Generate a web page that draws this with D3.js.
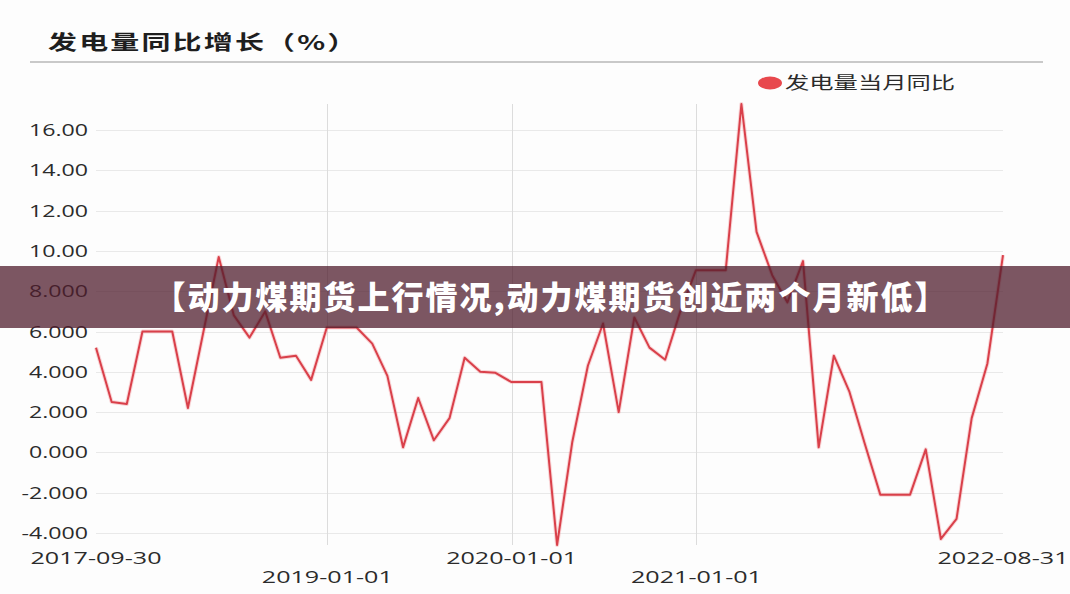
<!DOCTYPE html>
<meta charset="utf-8">
<head>
    <title>发电量同比增长</title>
    <script src="https://cdn.jsdelivr.net/npm/d3@7"></script>
    <style>
        body { margin: 0; background: #fdfdfd; }
        svg text { fill: #2b2b2b; }
        .tick-label { font-family: "Open Sans", "Noto Sans", sans-serif; font-size: 16px; }
        .cjk { font-family: "Noto Sans CJK SC", sans-serif; }
    </style>
</head>
<body>
<div id="chart"></div>
<script>
    // monthly series, month-end dates from 2017-09-30 to 2022-08-31
    var startMonth = "2017-09";
    var yoyValues = [5.2, 2.5, 2.4, 6.0, 6.0, 6.0, 2.2, 5.9, 9.7, 6.8,
                     5.7, 7.0, 4.7, 4.8, 3.6, 6.2, 6.2, 6.2, 5.4, 3.8,
                     0.25, 2.7, 0.6, 1.7, 4.7, 4.0, 3.95, 3.5, 3.5, 3.5,
                     -4.6, 0.5, 4.3, 6.4, 2.0, 6.7, 5.2, 4.6, 7.0, 9.05,
                     9.05, 9.05, 17.3, 10.95, 8.8, 7.45, 9.5, 0.25, 4.8, 3.0,
                     0.45, -2.1, -2.1, -2.1, 0.15, -4.3, -3.3, 1.7, 4.4, 9.8];
    var yTicks = [-4, -2, 0, 2, 4, 6, 8, 10, 12, 14, 16];
    var yTickLabels = ["-4.000", "-2.000", "0.000", "2.000", "4.000", "6.000", "8.000", "10.00", "12.00", "14.00", "16.00"];
    var xGridDates = ["2019-01-01", "2020-01-01", "2021-01-01"];
    var xLabels = ["2017-09-30", "2019-01-01", "2020-01-01", "2021-01-01", "2022-08-31"];

    var seriesName = "发电量当月同比";
    var titleText = "发电量同比增长（%）";
    var bannerText = "【动力煤期货上行情况,动力煤期货创近两个月新低】";

    var width = 1070, height = 594;
    var margin = { top: 104, right: 67, bottom: 49, left: 96 };
    var stretch = 1.45;   // the source picture is squeezed wide, text follows it

    var parse = d3.utcParse("%Y-%m-%d");
    var first = d3.utcParse("%Y-%m")(startMonth);
    var data = yoyValues.map(function (v, i) {
        // last day of each month
        var d = d3.utcDay.offset(d3.utcMonth.offset(first, i + 1), -1);
        return { date: d, value: v };
    });

    var svg = d3.select("#chart").append("svg")
        .attr("width", width)
        .attr("height", height);

    var x = d3.scaleUtc()
        .domain(d3.extent(data, function (d) { return d.date; }))
        .range([margin.left, width - margin.right]);

    var y = d3.scaleLinear()
        .domain(d3.extent(yoyValues))
        .range([height - margin.bottom, margin.top]);

    // title and rule under it
    svg.append("text")
        .attr("class", "cjk")
        .attr("transform", "translate(48,50) scale(" + stretch + ",1)")
        .style("font-size", "20px")
        .style("font-weight", 700)
        .style("letter-spacing", "1.5px")
        .style("fill", "#1e1e1e")
        .text(titleText);

    svg.append("line")
        .attr("x1", 30).attr("x2", 1043)
        .attr("y1", 62).attr("y2", 62)
        .attr("stroke", "#c9c9c9")
        .attr("stroke-width", 2);

    // legend
    svg.append("ellipse")
        .attr("cx", 770).attr("cy", 83)
        .attr("rx", 12).attr("ry", 6.5)
        .attr("fill", "#e8484d");
    svg.append("text")
        .attr("class", "cjk")
        .attr("transform", "translate(785,89) scale(1.43,1)")
        .style("font-size", "17px")
        .text(seriesName);

    // horizontal grid
    svg.append("g").selectAll("line")
        .data(yTicks)
        .enter().append("line")
        .attr("x1", x.range()[0]).attr("x2", x.range()[1])
        .attr("y1", function (d) { return Math.round(y(d)) + 0.5; })
        .attr("y2", function (d) { return Math.round(y(d)) + 0.5; })
        .attr("stroke", "#e9e9e9");

    // vertical grid at year starts
    svg.append("g").selectAll("line")
        .data(xGridDates)
        .enter().append("line")
        .attr("x1", function (d) { return Math.round(x(parse(d))) + 0.5; })
        .attr("x2", function (d) { return Math.round(x(parse(d))) + 0.5; })
        .attr("y1", y.range()[1]).attr("y2", y.range()[0])
        .attr("stroke", "#dcdcdc");

    // y labels
    svg.append("g").selectAll("text")
        .data(yTicks)
        .enter().append("text")
        .attr("class", "tick-label")
        .attr("text-anchor", "end")
        .attr("transform", function (d) {
            return "translate(88," + (y(d) + 6) + ") scale(" + stretch + ",1)";
        })
        .text(function (d, i) { return yTickLabels[i]; });

    // x labels, staggered on two rows
    svg.append("g").selectAll("text")
        .data(xLabels)
        .enter().append("text")
        .attr("class", "tick-label")
        .attr("text-anchor", "middle")
        .attr("transform", function (d, i) {
            var row = i % 2 === 0 ? 564 : 583;
            return "translate(" + x(parse(d)) + "," + row + ") scale(1.57,1)";
        })
        .text(function (d) { return d; });

    // series line
    var line = d3.line()
        .x(function (d) { return x(d.date); })
        .y(function (d) { return y(d.value); });

    svg.append("path")
        .datum(data)
        .attr("d", line)
        .attr("fill", "none")
        .attr("stroke", "#f08a8e")
        .attr("stroke-opacity", 0.35)
        .attr("stroke-width", 4)
        .attr("stroke-linejoin", "round");

    svg.append("path")
        .datum(data)
        .attr("d", line)
        .attr("fill", "none")
        .attr("stroke", "#d9404a")
        .attr("stroke-width", 2)
        .attr("stroke-linejoin", "round");

    // overlay banner
    svg.append("rect")
        .attr("x", 0).attr("y", 266)
        .attr("width", width).attr("height", 62)
        .attr("fill", "rgba(80,30,45,0.75)");

    svg.append("text")
        .attr("class", "cjk")
        .attr("x", 551)
        .attr("y", 309)
        .attr("text-anchor", "middle")
        .style("font-size", "32px")
        .style("font-weight", 900)
        .style("letter-spacing", "2px")
        .style("fill", "#ffffff")
        .text(bannerText);
</script>
</body>
</html>
